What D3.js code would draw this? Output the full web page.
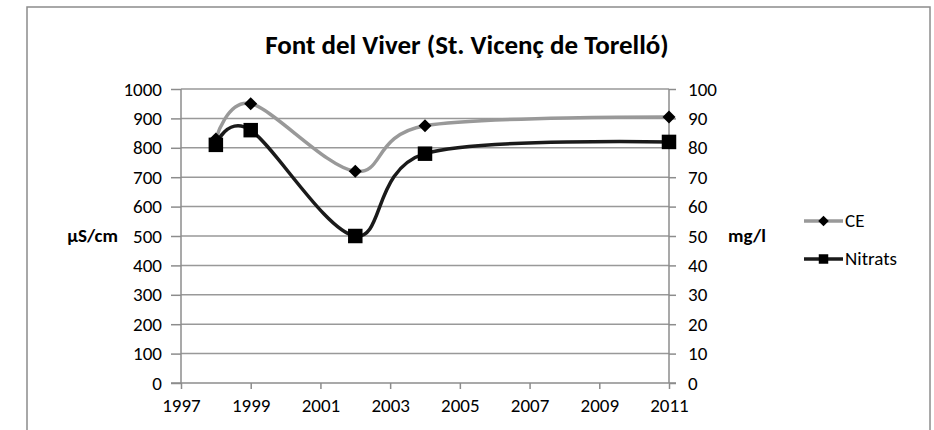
<!DOCTYPE html>
<html>
<head>
<meta charset="utf-8">
<script src="https://cdn.jsdelivr.net/npm/d3@7"></script>
<style>
  body { margin: 0; background: #fff; }
  svg text { font-family: Carlito, Calibri, "Liberation Sans", sans-serif; fill: #000; }
</style>
</head>
<body>
<div id="chart"></div>
<script>
// data
var years = [1998, 1999, 2002, 2004, 2011];
var ceValues = [830, 950, 720, 875, 905];      // µS/cm, left axis
var nitratValues = [81, 86, 50, 78, 82];        // mg/l, right axis
var xTicks = [1997, 1999, 2001, 2003, 2005, 2007, 2009, 2011];
var leftTicks = [0, 100, 200, 300, 400, 500, 600, 700, 800, 900, 1000];
var rightTicks = [0, 10, 20, 30, 40, 50, 60, 70, 80, 90, 100];
var seriesNames = ["CE", "Nitrats"];

drawChart("#chart");

function drawChart(elm) {
  var W = 934, H = 430;
  var margin = { top: 89, right: 265, bottom: 47, left: 181 },
    width = W - margin.left - margin.right,
    height = H - margin.top - margin.bottom;
  var fs = "19px";

  var svg = d3.select(elm)
    .append("svg")
    .attr("width", W)
    .attr("height", H);

  // outer frame
  svg.append("rect")
    .attr("x", 27).attr("y", 7)
    .attr("width", 903).attr("height", 440)
    .attr("fill", "none")
    .attr("stroke", "#8c8c8c")
    .attr("stroke-width", 1.5);

  svg.append("text")
    .attr("x", 467).attr("y", 54)
    .attr("text-anchor", "middle")
    .attr("font-weight", "bold")
    .attr("font-size", "27px")
    .text("Font del Viver (St. Vicenç de Torelló)");

  var g = svg.append("g")
    .attr("transform", `translate(${margin.left},${margin.top})`);

  var x = d3.scaleLinear().domain([1997, 2011]).range([0, width]);
  var yL = d3.scaleLinear().domain([0, 1000]).range([height, 0]);
  var yR = d3.scaleLinear().domain([0, 100]).range([height, 0]);

  // gridlines
  g.append("g")
    .selectAll("line")
    .data(leftTicks.slice(1))
    .join("line")
    .attr("x1", 0).attr("x2", width)
    .attr("y1", d => yL(d)).attr("y2", d => yL(d))
    .attr("stroke", "#999")
    .attr("stroke-width", 1.5);

  // axes
  var axisL = g.append("g")
    .attr("class", "chart-axis")
    .call(d3.axisLeft(yL).tickValues(leftTicks).tickFormat(d3.format("d")).tickSize(10).tickPadding(9));
  var axisR = g.append("g")
    .attr("class", "chart-axis")
    .attr("transform", `translate(${width},0)`)
    .call(d3.axisRight(yR).tickValues(rightTicks).tickFormat(d3.format("d")).tickSize(7).tickPadding(12));
  var axisB = g.append("g")
    .attr("class", "chart-axis")
    .attr("transform", `translate(0,${height})`)
    .call(d3.axisBottom(x).tickValues(xTicks).tickFormat(d3.format("d")).tickSize(6).tickPadding(10));

  [axisL, axisR, axisB].forEach(function (a) {
    a.attr("font-size", null).attr("font-family", null);
    a.select(".domain").attr("stroke", "#8c8c8c").attr("stroke-width", 1.5);
    a.selectAll(".tick line").attr("stroke", "#8c8c8c").attr("stroke-width", 1.5);
    a.selectAll("text").attr("font-size", fs).attr("fill", "#000");
  });
  axisL.select(".domain").attr("d", `M0,${height}V0`);
  axisR.select(".domain").attr("d", `M0,${height}V0`);
  axisB.select(".domain").attr("d", `M-10,0H${width + 7}`);

  // axis titles
  svg.append("text")
    .attr("x", 118).attr("y", margin.top + yL(500) + 6)
    .attr("text-anchor", "end")
    .attr("font-weight", "bold")
    .attr("font-size", fs)
    .text("µS/cm");
  svg.append("text")
    .attr("x", 728).attr("y", margin.top + yR(50) + 6)
    .attr("font-weight", "bold")
    .attr("font-size", fs)
    .text("mg/l");

  var curve = d3.curveCardinal.tension(0);
  var ceData = years.map((d, i) => [d, ceValues[i]]);
  var nData = years.map((d, i) => [d, nitratValues[i]]);

  // CE line
  g.append("path")
    .datum(ceData)
    .attr("fill", "none")
    .attr("stroke", "#999")
    .attr("stroke-width", 3.5)
    .attr("d", d3.line().curve(curve).x(d => x(d[0])).y(d => yL(d[1])));

  // Nitrats line
  g.append("path")
    .datum(nData)
    .attr("fill", "none")
    .attr("stroke", "#1a1a1a")
    .attr("stroke-width", 3.5)
    .attr("d", d3.line().curve(curve).x(d => x(d[0])).y(d => yR(d[1])));

  g.selectAll(".ce-pt")
    .data(ceData)
    .join("path")
    .attr("class", "ce-pt")
    .attr("transform", d => `translate(${x(d[0])},${yL(d[1])}) rotate(45)`)
    .attr("d", d3.symbol().type(d3.symbolSquare).size(85))
    .attr("fill", "#000");

  g.selectAll(".n-pt")
    .data(nData)
    .join("path")
    .attr("class", "n-pt")
    .attr("transform", d => `translate(${x(d[0])},${yR(d[1])})`)
    .attr("d", d3.symbol().type(d3.symbolSquare).size(210))
    .attr("fill", "#000");

  // legend
  var leg = svg.append("g").attr("transform", "translate(804,221)");
  var items = [
    { name: seriesNames[0], color: "#999", sym: d3.symbol().type(d3.symbolSquare).size(55), rot: 45 },
    { name: seriesNames[1], color: "#1a1a1a", sym: d3.symbol().type(d3.symbolSquare).size(90), rot: 0 }
  ];
  items.forEach(function (it, i) {
    var row = leg.append("g").attr("transform", `translate(0,${i * 38})`);
    row.append("line")
      .attr("x1", 0).attr("x2", 39)
      .attr("stroke", it.color).attr("stroke-width", 3.5);
    row.append("path")
      .attr("transform", `translate(19.5,0) rotate(${it.rot})`)
      .attr("d", it.sym)
      .attr("fill", "#000");
    row.append("text")
      .attr("x", 41).attr("y", 6)
      .attr("font-size", fs)
      .text(it.name);
  });
}
</script>
</body>
</html>
